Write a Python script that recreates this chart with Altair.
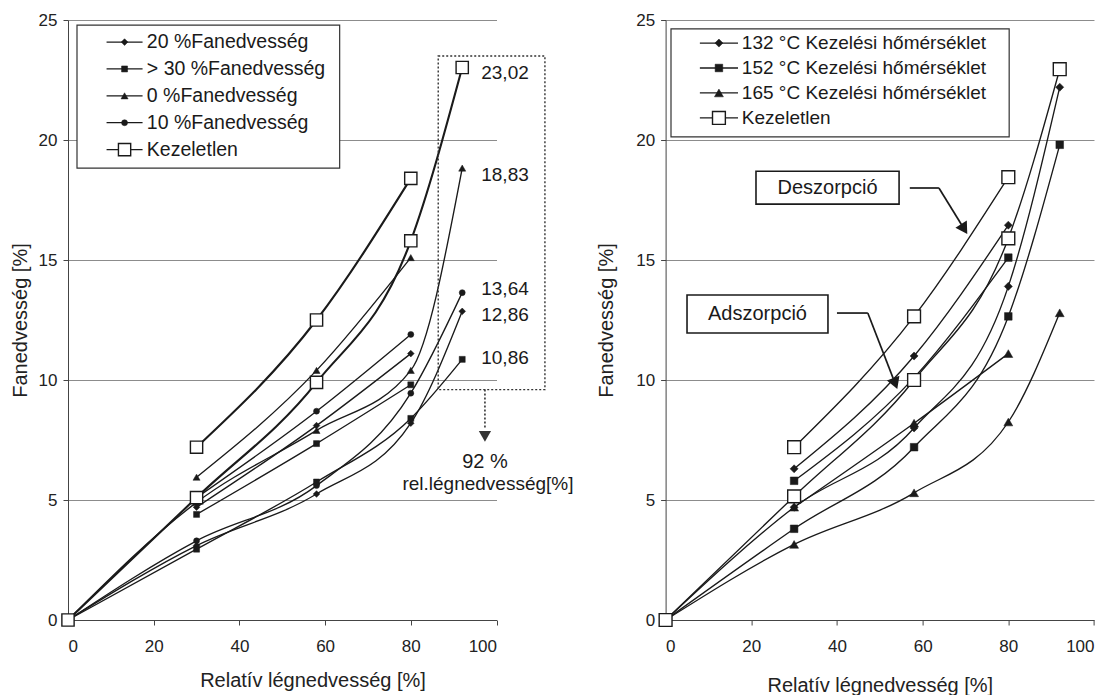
import altair as alt
import pandas as pd

FONT = "Liberation Sans"
INK = "#1a1a1a"

# ---------------- data ----------------
rh_ads = [0, 30, 58, 80, 92]
rh_des = [30, 58, 80]
x_ticks = [0, 20, 40, 60, 80, 100]
y_ticks = [0, 5, 10, 15, 20, 25]

# left panel (adsorption / desorption by initial wood moisture)
left_names = ["20 %Fanedvesség", "> 30 %Fanedvesség", "0 %Fanedvesség", "10 %Fanedvesség", "Kezeletlen"]
ads_20 = [0, 3.1, 5.25, 8.2, 12.86]
ads_30 = [0, 2.95, 5.75, 8.4, 10.86]
ads_0 = [0, 4.9, 7.9, 10.4, 18.83]
ads_10 = [0, 3.3, 5.6, 9.45, 13.64]
ads_k1 = [0, 5.1, 9.9, 15.8, 23.02]
des_20 = [4.7, 8.1, 11.1]
des_30 = [4.4, 7.35, 9.8]
des_0 = [5.95, 10.4, 15.1]
des_10 = [5.1, 8.7, 11.9]
des_k1 = [7.2, 12.5, 18.4]

# right panel (by treatment temperature)
right_names = ["132 °C Kezelési hőmérséklet", "152 °C Kezelési hőmérséklet", "165 °C Kezelési hőmérséklet", "Kezeletlen"]
ads_132 = [0, 4.7, 8.0, 13.9, 22.2]
ads_152 = [0, 3.8, 7.2, 12.65, 19.8]
ads_165 = [0, 3.15, 5.3, 8.25, 12.8]
ads_k2 = [0, 5.15, 10.0, 15.9, 22.95]
des_132 = [6.3, 11.0, 16.45]
des_152 = [5.8, 10.1, 15.1]
des_165 = [4.7, 8.2, 11.1]
des_k2 = [7.2, 12.65, 18.45]

# pixel nudges (downwards) for the end-value labels (label layout only)
label_nudge = {"20 %Fanedvesség": 3.5, "> 30 %Fanedvesség": -1, "0 %Fanedvesség": 7,
               "10 %Fanedvesség": -4, "Kezeletlen": 5}


def long_df(names, ads, des):
    rows = []
    for n, a, d in zip(names, ads, des):
        for x, v in zip(rh_ads, a):
            rows.append({"series": n, "line": n + "|ads", "branch": "ads", "rh": x, "val": v})
        for x, v in zip(rh_des, d):
            rows.append({"series": n, "line": n + "|des", "branch": "des", "rh": x, "val": v})
    return pd.DataFrame(rows)


left_df = long_df(left_names, [ads_20, ads_30, ads_0, ads_10, ads_k1],
                  [des_20, des_30, des_0, des_10, des_k1])
left_df["nudge"] = left_df["series"].map(label_nudge)
right_df = long_df(right_names, [ads_132, ads_152, ads_165, ads_k2],
                   [des_132, des_152, des_165, des_k2])

# ---------------- styles ----------------
left_markers = [
    {"shape": "diamond", "size": 45, "fill": INK, "sw": 0.5},
    {"shape": "square", "size": 36, "fill": INK, "sw": 0.5},
    {"shape": "triangle-up", "size": 50, "fill": INK, "sw": 0.5},
    {"shape": "circle", "size": 36, "fill": INK, "sw": 0.5},
    {"shape": "square", "size": 150, "fill": "white", "sw": 1.4},
]
right_markers = [
    {"shape": "diamond", "size": 65, "fill": INK, "sw": 0.5},
    {"shape": "square", "size": 58, "fill": INK, "sw": 0.5},
    {"shape": "triangle-up", "size": 80, "fill": INK, "sw": 0.5},
    {"shape": "square", "size": 165, "fill": "white", "sw": 1.4},
]

PX_PER_UNIT = 600 / 25  # plot height / y range, to turn pixel nudges into data units


def make_enc(ytitle_pad, xtitle_pad, xtitle_x=None):
    xs = alt.Scale(domain=[0, 100], nice=False)
    ys = alt.Scale(domain=[0, 25], nice=False)
    xkw = {"titleX": xtitle_x} if xtitle_x is not None else {}
    xax = alt.Axis(values=x_ticks, grid=False, title="Relatív légnedvesség [%]",
                   labelPadding=13, titlePadding=xtitle_pad, tickSize=5, **xkw)
    yax = alt.Axis(values=y_ticks, grid=True, title="Fanedvesség [%]",
                   labelPadding=6, titlePadding=ytitle_pad, tickSize=5)

    def X(f="rh"):
        return alt.X(f, type="quantitative", scale=xs, axis=xax)

    def Y(f="val"):
        return alt.Y(f, type="quantitative", scale=ys, axis=yax)

    return X, Y


def panel(df, names, markers, thick_k, leg, X, Y):
    layers = []
    base = alt.Chart(df)
    k = "Kezeletlen"
    thin = base.transform_filter(alt.datum.series != k) if thick_k else base
    layers.append(thin.mark_line(interpolate="monotone", color=INK, strokeWidth=1.35)
                  .encode(x=X(), y=Y(), detail="line:N"))
    if thick_k:
        layers.append(base.transform_filter(alt.datum.series == k)
                      .mark_line(interpolate="monotone", color=INK, strokeWidth=2.1)
                      .encode(x=X(), y=Y(), detail="line:N"))
    for n, m in zip(names, markers):
        layers.append(base.transform_filter(alt.datum.series == n)
                      .mark_point(shape=m["shape"], size=m["size"], filled=True, fill=m["fill"],
                                  stroke=INK, strokeWidth=m["sw"], opacity=1)
                      .encode(x=X(), y=Y()))
    # legend
    box = pd.DataFrame([{"rh": leg["x1"], "rh2": leg["x2"], "val": leg["y1"], "val2": leg["y2"]}])
    layers.append(alt.Chart(box).mark_rect(fill="white", stroke="#333", strokeWidth=1.2)
                  .encode(x=X(), x2="rh2", y=Y(), y2="val2"))
    ld = pd.DataFrame({"label": names,
                       "val": [leg["top"] - i * leg["step"] for i in range(len(names))]})
    ld["rh"] = leg["sx1"]
    ld["rh2"] = leg["sx2"]
    ld["cx"] = (leg["sx1"] + leg["sx2"]) / 2
    ld["tx"] = leg["tx"]
    lb = alt.Chart(ld)
    layers.append(lb.mark_rule(color=INK, strokeWidth=1.3).encode(x=X(), x2="rh2", y=Y()))
    for n, m in zip(names, markers):
        layers.append(lb.transform_filter(alt.datum.label == n)
                      .mark_point(shape=m["shape"], size=m["size"], filled=True, fill=m["fill"],
                                  stroke=INK, strokeWidth=m["sw"], opacity=1)
                      .encode(x=X("cx"), y=Y()))
    layers.append(lb.mark_text(align="left", baseline="middle", font=FONT, fontSize=leg["fs"], color=INK)
                  .encode(x=X("tx"), y=Y(), text="label:N"))
    return layers


# ---------------- left panel ----------------
XL, YL = make_enc(8, 16, 244.5)
left_leg = {"x1": 2.1, "x2": 63.4, "y1": 24.79, "y2": 18.83,
            "top": 24.08, "step": 1.12, "sx1": 9.0, "sx2": 17.4, "tx": 18.4, "fs": 19.5}
L = panel(left_df, left_names, left_markers, True, left_leg, XL, YL)

vals = alt.Chart(left_df).transform_filter(
    (alt.datum.branch == "ads") & (alt.datum.rh == 92)
).transform_calculate(
    lbl="replace(format(datum.val, '.2f'), '.', ',')",
    ly=f"datum.val - datum.nudge / {PX_PER_UNIT}",
)
L.append(vals.mark_text(align="left", baseline="middle", dx=19, font=FONT, fontSize=19, color=INK)
         .encode(x=XL(), y=YL("ly"), text="lbl:N"))

dbox = pd.DataFrame([{"rh": 86.4, "rh2": 111.3, "val": 23.5, "val2": 9.6}])
L.append(alt.Chart(dbox).mark_rect(fillOpacity=0, stroke="#333", strokeWidth=1.4, strokeDash=[2, 2])
         .encode(x=XL(), x2="rh2", y=YL(), y2="val2"))
darrow = pd.DataFrame([{"rh": 97.3, "val": 9.6, "val2": 8.0, "tip": 7.65}])
L.append(alt.Chart(darrow).mark_rule(color="#333", strokeWidth=1.6, strokeDash=[2, 2])
         .encode(x=XL(), y=YL(), y2="val2"))
L.append(alt.Chart(darrow).mark_point(shape="triangle-down", size=150, filled=True, color="#333", opacity=1)
         .encode(x=XL(), y=YL("tip")))
notes_l = pd.DataFrame([{"rh": 97.3, "val": 6.58, "t": "92 %", "fs": 20},
                        {"rh": 98.0, "val": 5.67, "t": "rel.légnedvesség[%]", "fs": 19}])
L.append(alt.Chart(notes_l).mark_text(align="center", baseline="middle", font=FONT, color=INK)
         .encode(x=XL(), y=YL(), text="t:N", size=alt.Size("fs:Q", scale=None)))

left = alt.layer(*L).properties(width=428.5, height=600)

# ---------------- right panel ----------------
XR, YR = make_enc(19, 21)
right_leg = {"x1": 1.26, "x2": 80.2, "y1": 24.63, "y2": 20.13,
             "top": 24.04, "step": 1.04, "sx1": 8.0, "sx2": 16.9, "tx": 17.8, "fs": 19}
R = panel(right_df, right_names, right_markers, False, right_leg, XR, YR)

boxes = pd.DataFrame([
    {"rh": 21.1, "rh2": 54.5, "val": 18.7, "val2": 17.33, "cx": 37.8, "cy": 18.02, "t": "Deszorpció"},
    {"rh": 5.0, "rh2": 37.9, "val": 13.54, "val2": 11.96, "cx": 21.45, "cy": 12.75, "t": "Adszorpció"},
])
R.append(alt.Chart(boxes).mark_rect(fill="white", stroke=INK, strokeWidth=1.6)
         .encode(x=XR(), x2="rh2", y=YR(), y2="val2"))
R.append(alt.Chart(boxes).mark_text(align="center", baseline="middle", font=FONT, fontSize=20, color=INK)
         .encode(x=XR("cx"), y=YR("cy"), text="t:N"))
segs = pd.DataFrame([
    {"rh": 57.0, "val": 18.0, "rh2": 63.8, "val2": 18.0},
    {"rh": 63.8, "val": 18.0, "rh2": 69.7, "val2": 16.29},
    {"rh": 40.0, "val": 12.79, "rh2": 47.2, "val2": 12.79},
    {"rh": 47.2, "val": 12.79, "rh2": 53.6, "val2": 9.85},
])
R.append(alt.Chart(segs).mark_rule(color=INK, strokeWidth=1.7)
         .encode(x=XR(), x2="rh2", y=YR(), y2="val2"))
heads = pd.DataFrame([{"rh": 69.7, "val": 16.29, "ang": 148},
                      {"rh": 53.6, "val": 9.85, "ang": 159}])
R.append(alt.Chart(heads).mark_point(shape="triangle-up", size=180, filled=True, color=INK, opacity=1)
         .encode(x=XR(), y=YR(), angle=alt.Angle("ang:Q", scale=None)))

right = alt.layer(*R).properties(width=428.4, height=600)

chart = alt.hconcat(left, right, spacing=168.6, bounds="flush").properties(
    padding={"left": 10, "top": 11, "right": 0, "bottom": 0}
).configure_view(stroke=None).configure_axis(
    labelFont=FONT, labelFontSize=17, labelColor="#222",
    titleFont=FONT, titleFontSize=20, titleColor="#222", titleFontWeight="normal",
    domainColor="#444", tickColor="#444", gridColor="#8c8c8c", gridWidth=1,
)

chart.save("out.html", embed_options={"renderer": "svg", "actions": False})
